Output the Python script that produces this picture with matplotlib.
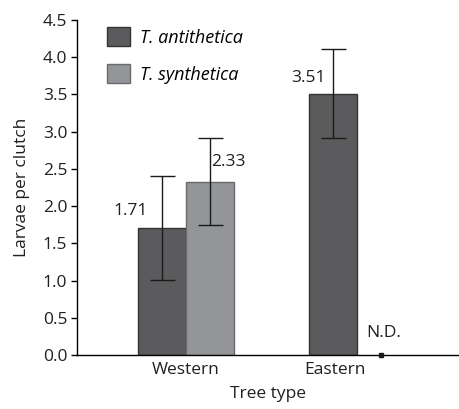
import matplotlib
matplotlib.use("Agg")
import matplotlib.pyplot as plt
from matplotlib.patches import Patch

plt.rcParams['font.family'] = ['Open Sans', 'DejaVu Sans']

groups = ["Western", "Eastern"]
series = ["T. antithetica", "T. synthetica"]
antithetica = [1.71, 3.51]
antithetica_err = [0.70, 0.60]
synthetica = [2.33, None]
synthetica_err = [0.59, None]
value_labels_a = ["1.71", "3.51"]
value_labels_s = ["2.33", "N.D."]
yticks = [0.0, 0.5, 1.0, 1.5, 2.0, 2.5, 3.0, 3.5, 4.0, 4.5]

dark = "#5b5b5d"
dark_edge = "#333333"
light = "#939598"
light_edge = "#6a6a6c"
txt = '#231f20'

fig = plt.figure(figsize=(4.59, 4.09), dpi=100)
ax = fig.add_axes([0.1678, 0.132, 0.8322, 0.819])

centers = [0.0, 1.425]
w = 0.4
fs = 12.5

# antithetica bars
xa = [c - w / 2 for c in centers]
ax.bar(xa, antithetica, width=w, color=dark, edgecolor=dark_edge, linewidth=1.0, zorder=2)
ax.errorbar(xa, antithetica, yerr=antithetica_err, fmt='none', ecolor='#1a1a1a',
            elinewidth=1.0, capsize=9, capthick=1.0, zorder=3)

# synthetica bars (only Western has data)
xs = [c + w / 2 for c in centers]
ax.bar([xs[0]], [synthetica[0]], width=w, color=light, edgecolor=light_edge, linewidth=1.0, zorder=2)
ax.errorbar([xs[0]], [synthetica[0]], yerr=[synthetica_err[0]], fmt='none', ecolor='#1a1a1a',
            elinewidth=1.0, capsize=9, capthick=1.0, zorder=3)

# N.D. marker
ax.plot([xs[1]], [0.0], marker='s', markersize=3.5, color='#1a1a1a', zorder=4, clip_on=False)

# value labels
ax.annotate(value_labels_a[0], (xa[0], antithetica[0]), xytext=(-10, 12), textcoords='offset points',
            ha='right', va='center', fontsize=fs, color=txt)
ax.annotate(value_labels_s[0], (xs[0], synthetica[0]), xytext=(1, 14), textcoords='offset points',
            ha='left', va='center', fontsize=fs, color=txt)
ax.annotate(value_labels_a[1], (xa[1], antithetica[1]), xytext=(-5, 11), textcoords='offset points',
            ha='right', va='center', fontsize=fs, color=txt)
ax.annotate(value_labels_s[1], (xs[1], 0.0), xytext=(2, 16), textcoords='offset points',
            ha='center', va='center', fontsize=fs, color=txt)

ax.set_ylim(0, 4.5)
ax.set_xlim(-0.908, 2.275)
ax.set_yticks(yticks)
ax.set_yticklabels([f"{t:.1f}" for t in yticks], fontsize=fs, color=txt)
ax.set_xticks([0.0, xa[1] + 0.02])
ax.set_xticklabels(groups, fontsize=fs, color=txt)
ax.tick_params(axis='x', length=0, pad=5)
ax.tick_params(axis='y', length=4, width=1.0, pad=3, direction='out')

for s in ['top', 'right']:
    ax.spines[s].set_visible(False)
ax.spines['left'].set_linewidth(1.0)
ax.spines['bottom'].set_linewidth(1.0)

ax.set_ylabel("Larvae per clutch", fontsize=fs, color=txt, labelpad=9)
ax.set_xlabel("Tree type", fontsize=fs, color=txt, labelpad=6)

handles = [Patch(facecolor=dark, edgecolor=dark_edge), Patch(facecolor=light, edgecolor=light_edge)]
leg = ax.legend(handles, series, loc='upper left', bbox_to_anchor=(0.06, 1.0), frameon=False,
                prop={'family': ['Open Sans', 'DejaVu Sans'], 'style': 'italic', 'size': 13},
                handlelength=1.25, handleheight=1.25, handletextpad=0.55, labelspacing=0.95,
                borderaxespad=0.0)

fig.savefig("out.png", dpi=100)
